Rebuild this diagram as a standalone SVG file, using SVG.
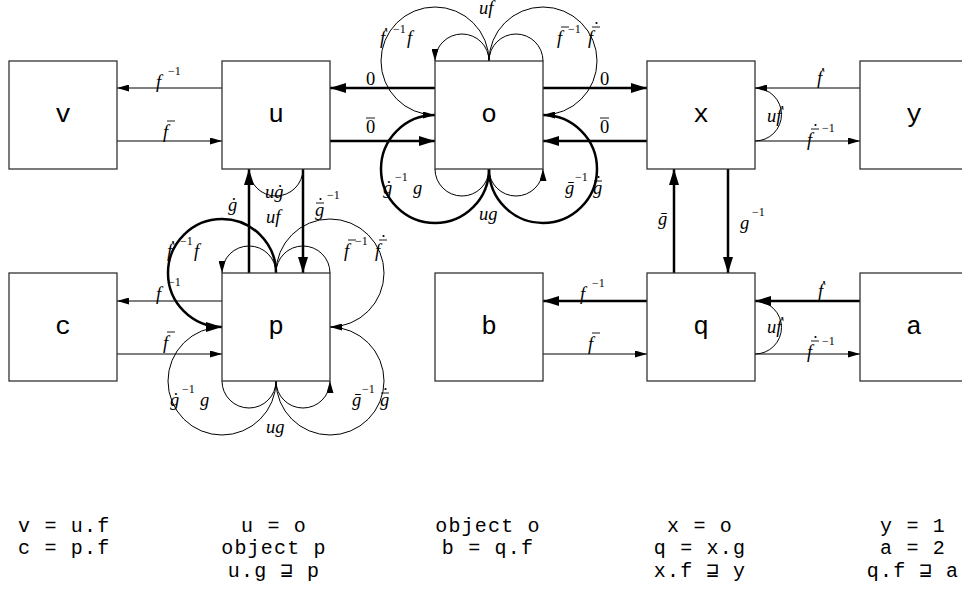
<svg xmlns="http://www.w3.org/2000/svg" width="962" height="597" viewBox="0 0 962 597">
<style>
.box{fill:#fff;stroke:#333;stroke-width:1.3}
.bl{font-family:"Liberation Mono",monospace;font-size:26px;text-anchor:middle;fill:#000}
.m{font-family:"Liberation Serif",serif;font-style:italic;font-size:18.5px;fill:#000}
.n{font-style:normal}
.s{font-style:normal;font-size:12px}
.t{fill:none;stroke:#000;stroke-width:1}
.k{fill:none;stroke:#000;stroke-width:2.5}
.acc{stroke:#000;stroke-width:0.9}
.dot{fill:#000}
.code{font-family:"Liberation Mono","DejaVu Sans Mono",monospace;font-size:20px;letter-spacing:1.2px;fill:#000}
.c{text-anchor:middle}
</style>
<defs>
<marker id="a" viewBox="0 0 12 7" markerWidth="12" markerHeight="7" refX="12" refY="3.5" markerUnits="userSpaceOnUse" orient="auto"><path d="M0,0 L12,3.5 L0,7 z" fill="#000"/></marker>
<marker id="b" viewBox="0 0 16 10" markerWidth="16" markerHeight="10" refX="16" refY="5" markerUnits="userSpaceOnUse" orient="auto"><path d="M0,0 L16,5 L0,10 z" fill="#000"/></marker>
</defs>
<rect width="962" height="597" fill="#fff"/>

<g id="connectors">
<!-- row 1 -->
<line class="t" x1="222" y1="88" x2="117" y2="88" marker-end="url(#a)"/>
<line class="t" x1="117" y1="141" x2="222" y2="141" marker-end="url(#a)"/>
<line class="k" x1="435" y1="88" x2="330" y2="88" marker-end="url(#b)"/>
<line class="k" x1="330" y1="141" x2="435" y2="141" marker-end="url(#b)"/>
<line class="k" x1="543" y1="88" x2="647" y2="88" marker-end="url(#b)"/>
<line class="k" x1="647" y1="141" x2="543" y2="141" marker-end="url(#b)"/>
<line class="t" x1="860" y1="88" x2="755" y2="88" marker-end="url(#a)"/>
<line class="t" x1="755" y1="141" x2="860" y2="141" marker-end="url(#a)"/>
<!-- row 2 -->
<line class="t" x1="222" y1="301" x2="117" y2="301" marker-end="url(#a)"/>
<line class="t" x1="117" y1="354" x2="222" y2="354" marker-end="url(#a)"/>
<line class="k" x1="647" y1="301" x2="543" y2="301" marker-end="url(#b)"/>
<line class="t" x1="543" y1="354" x2="647" y2="354" marker-end="url(#a)"/>
<line class="k" x1="860" y1="301" x2="755" y2="301" marker-end="url(#b)"/>
<line class="t" x1="755" y1="354" x2="860" y2="354" marker-end="url(#a)"/>
<!-- verticals -->
<line class="k" x1="249" y1="273" x2="249" y2="169" marker-end="url(#b)"/>
<line class="k" x1="303" y1="169" x2="303" y2="273" marker-end="url(#b)"/>
<line class="k" x1="674" y1="273" x2="674" y2="169" marker-end="url(#b)"/>
<line class="k" x1="728" y1="169" x2="728" y2="273" marker-end="url(#b)"/>
<!-- small arcs -->
<path class="t" d="M249,169 A27,27 0 0 0 303,169"/>
<path class="t" d="M755,88 A26.5,26.5 0 0 1 755,141"/>
<path class="t" d="M755,301 A26.5,26.5 0 0 1 755,354"/>
<!-- loops around o -->
<path class="t" d="M543,61 A27,27 0 0 0 489,61 A27,27 0 0 0 435,61" marker-end="url(#a)"/>
<path class="t" d="M435,169 A27,27 0 0 0 489,169 A27,27 0 0 0 543,169" marker-end="url(#a)"/>
<path class="t" d="M489,61 A54,54 0 1 0 435,115" marker-end="url(#a)"/>
<path class="t" d="M489,61 A54,54 0 1 1 543,115" marker-end="url(#a)"/>
<path class="k" d="M435,115 A54,54 0 1 0 489,169"/>
<path class="k" d="M543,115 A54,54 0 1 1 489,169"/>
<!-- loops around p -->
<path class="t" d="M330,273 A27,27 0 0 0 276,273 A27,27 0 0 0 222,273" marker-end="url(#a)"/>
<path class="t" d="M222,381 A27,27 0 0 0 276,381 A27,27 0 0 0 330,381" marker-end="url(#a)"/>
<path class="k" d="M276,273 A54,54 0 1 0 222,327" marker-end="url(#b)"/>
<path class="t" d="M276,273 A54,54 0 1 1 330,327" marker-end="url(#a)"/>
<path class="t" d="M222,327 A54,54 0 1 0 276,381"/>
<path class="t" d="M330,327 A54,54 0 1 1 276,381"/>

<!-- labels row 1 -->
<text class="m" x="156" y="88">f<tspan class="s" x="168" y="75">−1</tspan></text>
<text class="m" x="163" y="138">f</text><line class="acc" x1="167" y1="121" x2="175" y2="121"/>
<text class="m n" x="366" y="85">0</text>
<text class="m n" x="366" y="133">0</text><line class="acc" x1="366" y1="118" x2="375" y2="118"/>
<text class="m n" x="600" y="85">0</text>
<text class="m n" x="600" y="133">0</text><line class="acc" x1="600" y1="118" x2="609" y2="118"/>
<text class="m" x="817" y="84">ḟ</text>
<text class="m" x="807" y="146">f<tspan class="s" x="822" y="132">−1</tspan></text><line class="acc" x1="811" y1="129" x2="819" y2="129"/><circle class="dot" cx="815.5" cy="125" r="1.1"/>
<text class="m" x="767" y="122">uḟ</text>
<!-- labels row 2 -->
<text class="m" x="156" y="300">f<tspan class="s" x="168" y="286">−1</tspan></text>
<text class="m" x="163" y="349">f</text><line class="acc" x1="167" y1="332" x2="175" y2="332"/>
<text class="m" x="580" y="300">f<tspan class="s" x="592" y="287">−1</tspan></text>
<text class="m" x="588" y="350">f</text><line class="acc" x1="592" y1="333" x2="600" y2="333"/>
<text class="m" x="818" y="297">ḟ</text>
<text class="m" x="807" y="358">f<tspan class="s" x="822" y="345">−1</tspan></text><line class="acc" x1="811" y1="341" x2="819" y2="341"/><circle class="dot" cx="815.5" cy="337" r="1.1"/>
<text class="m" x="767" y="333">uḟ</text>
<!-- vertical labels -->
<text class="m" x="228" y="211">ġ</text>
<text class="m" x="265" y="198">uġ</text>
<text class="m" x="315" y="216">g<tspan class="s" x="327" y="199">−1</tspan></text><line class="acc" x1="316" y1="203" x2="324" y2="203"/><circle class="dot" cx="320.5" cy="199" r="1.1"/>
<text class="m" x="658" y="225">ḡ</text>
<text class="m" x="740" y="229">g<tspan class="s" x="752" y="216">−1</tspan></text>
<!-- o loop labels -->
<text class="m" x="479" y="14">uf</text>
<text class="m" x="380" y="44">ḟ<tspan class="s" x="393" y="33">−1</tspan><tspan x="407" y="44">f</tspan></text>
<text class="m" x="557" y="44">f<tspan class="s" x="568" y="33">−1</tspan><tspan x="588" y="44">f</tspan></text><line class="acc" x1="561" y1="27" x2="569" y2="27"/><line class="acc" x1="592" y1="27" x2="600" y2="27"/><circle class="dot" cx="596.5" cy="23" r="1.1"/>
<text class="m" x="383" y="194">ġ<tspan class="s" x="395" y="181">−1</tspan><tspan x="413" y="194">g</tspan></text>
<text class="m" x="565" y="194">ḡ<tspan class="s" x="575" y="181">−1</tspan><tspan x="593" y="194">g</tspan></text><line class="acc" x1="594" y1="181" x2="602" y2="181"/><circle class="dot" cx="598.5" cy="177" r="1.1"/>
<text class="m" x="479" y="220">ug</text>
<!-- p loop labels -->
<text class="m" x="266" y="223">uf</text>
<text class="m" x="167" y="257">ḟ<tspan class="s" x="180" y="245">−1</tspan><tspan x="194" y="257">f</tspan></text>
<text class="m" x="344" y="257">f<tspan class="s" x="355" y="245">−1</tspan><tspan x="375" y="257">f</tspan></text><line class="acc" x1="348" y1="240" x2="356" y2="240"/><line class="acc" x1="379" y1="240" x2="387" y2="240"/><circle class="dot" cx="383.5" cy="236" r="1.1"/>
<text class="m" x="170" y="406">ġ<tspan class="s" x="182" y="393">−1</tspan><tspan x="200" y="406">g</tspan></text>
<text class="m" x="352" y="406">ḡ<tspan class="s" x="362" y="393">−1</tspan><tspan x="380" y="406">g</tspan></text><line class="acc" x1="381" y1="393" x2="389" y2="393"/><circle class="dot" cx="385.5" cy="389" r="1.1"/>
<text class="m" x="266" y="433">ug</text>
</g>

<g id="v"><rect class="box" x="9" y="61" width="108" height="108"/><text class="bl" x="63" y="122">v</text></g>
<g id="u"><rect class="box" x="222" y="61" width="108" height="108"/><text class="bl" x="276" y="122">u</text></g>
<g id="o"><rect class="box" x="435" y="61" width="108" height="108"/><text class="bl" x="489" y="122">o</text></g>
<g id="x"><rect class="box" x="647" y="61" width="108" height="108"/><text class="bl" x="701" y="122">x</text></g>
<g id="y"><rect class="box" x="860" y="61" width="108" height="108"/><text class="bl" x="914" y="122">y</text></g>
<g id="c"><rect class="box" x="9" y="273" width="108" height="108"/><text class="bl" x="63" y="334">c</text></g>
<g id="p"><rect class="box" x="222" y="273" width="108" height="108"/><text class="bl" x="276" y="334">p</text></g>
<g id="b"><rect class="box" x="435" y="273" width="108" height="108"/><text class="bl" x="489" y="334">b</text></g>
<g id="q"><rect class="box" x="647" y="273" width="108" height="108"/><text class="bl" x="701" y="334">q</text></g>
<g id="a_node"><rect class="box" x="860" y="273" width="108" height="108"/><text class="bl" x="914" y="334">a</text></g>

<g id="legend">
<text class="code" x="18" y="532">v = u.f</text>
<text class="code" x="18" y="554">c = p.f</text>
<text class="code c" x="274" y="532">u = o</text>
<text class="code c" x="274" y="554">object p</text>
<text class="code c" x="274" y="577">u.g ⊒ p</text>
<text class="code c" x="488" y="532">object o</text>
<text class="code c" x="488" y="554">b = q.f</text>
<text class="code c" x="700" y="532">x = o</text>
<text class="code c" x="700" y="554">q = x.g</text>
<text class="code c" x="700" y="577">x.f ⊒ y</text>
<text class="code c" x="913" y="532">y = 1</text>
<text class="code c" x="913" y="554">a = 2</text>
<text class="code c" x="913" y="577">q.f ⊒ a</text>
</g>
</svg>
